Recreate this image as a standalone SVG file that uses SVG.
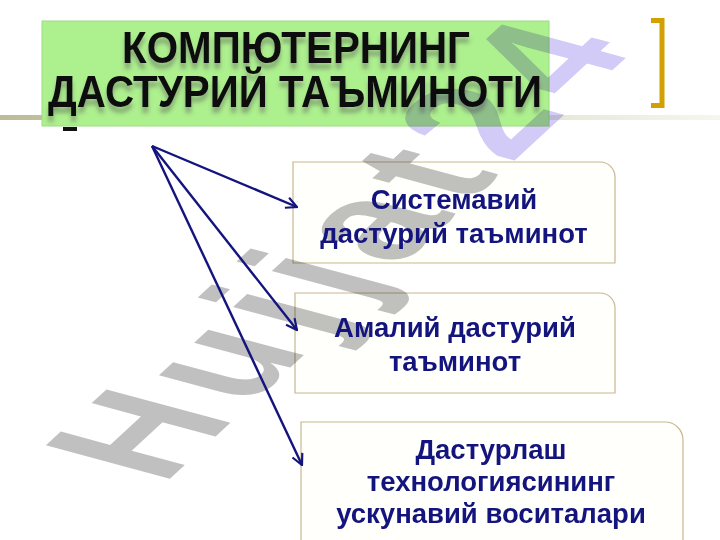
<svg xmlns="http://www.w3.org/2000/svg" width="720" height="540" viewBox="0 0 720 540">
  <defs>
    <linearGradient id="rule" x1="0" y1="0" x2="1" y2="0">
      <stop offset="0" stop-color="#bcbc98"/>
      <stop offset="0.6" stop-color="#dcdcc8"/>
      <stop offset="1" stop-color="#f6f6f0"/>
    </linearGradient>
    <filter id="glow" x="-5%" y="-20%" width="110%" height="160%">
      <feGaussianBlur in="SourceAlpha" stdDeviation="2.2"/>
      <feOffset dy="6" result="b"/>
      <feFlood flood-color="#555" flood-opacity="0.45"/>
      <feComposite in2="b" operator="in"/>
      <feMerge><feMergeNode/><feMergeNode in="SourceGraphic"/></feMerge>
    </filter>
    <marker id="arrow" viewBox="0 0 12 12" refX="11" refY="6" markerWidth="13" markerHeight="13" markerUnits="userSpaceOnUse" orient="auto">
      <path d="M1,1 L11,6 L1,11" fill="none" stroke="#14147e" stroke-width="2"/>
    </marker>
    <style>
      .box { fill: #fffffb; stroke: #c9b78f; stroke-width: 1.2; }
      .label { font-family: "Liberation Sans", Arial, sans-serif; font-weight: bold; font-size: 27.5px; fill: #14147e; text-anchor: middle; }
      .title { font-family: "Liberation Sans", Arial, sans-serif; font-weight: bold; font-size: 44px; fill: #111; text-anchor: middle; }
      .conn { stroke: #14147e; stroke-width: 2.4; fill: none; marker-end: url(#arrow); }
      .wm { font-family: "Liberation Sans", Arial, sans-serif; font-weight: bold; font-size: 100px; mix-blend-mode: multiply; }
    </style>
  </defs>

  <rect width="720" height="540" fill="#ffffff"/>

  <!-- horizontal rule and bracket -->
  <rect x="0" y="115" width="720" height="5" fill="url(#rule)"/>
  <path d="M651,20.5 H662 V105.5 H651" fill="none" stroke="#d2a000" stroke-width="5"/>

  <!-- title -->
  <g id="title">
    <rect x="42" y="21" width="507" height="105" fill="#adf08e" stroke="#9cdc82" stroke-width="1"/>
    <g filter="url(#glow)">
      <text class="title" x="296" y="63" textLength="348" lengthAdjust="spacingAndGlyphs">КОМПЮТЕРНИНГ</text>
      <text class="title" x="295" y="107" textLength="494" lengthAdjust="spacingAndGlyphs">ДАСТУРИЙ ТАЪМИНОТИ</text>
    </g>
  </g>
  <rect x="63" y="127" width="14" height="4" fill="#111"/>

  <!-- boxes -->
  <g id="node-system">
    <path class="box" d="M293,162 H600 A15,15 0 0 1 615,177 V263 H293 Z"/>
  </g>
  <g id="node-applied">
    <path class="box" d="M295,293 H600 A15,15 0 0 1 615,308 V393 H295 Z"/>
  </g>
  <g id="node-tools">
    <path class="box" d="M301,422 H665 A18,18 0 0 1 683,440 V545 H301 Z"/>
  </g>

  <!-- watermark -->
  <g id="watermark">
    <text class="wm" transform="matrix(1.03,-0.951,1.8,0.485,163,485)" letter-spacing="10"><tspan fill="#c0c0c0">Hujjat</tspan><tspan fill="#d2cbf7">24</tspan></text>
  </g>

  <!-- labels -->
  <g id="labels">
    <text class="label" x="454" y="209">Системавий</text>
    <text class="label" x="454" y="243">дастурий таъминот</text>
    <text class="label" x="455" y="337">Амалий дастурий</text>
    <text class="label" x="455" y="371">таъминот</text>
    <text class="label" x="491" y="459">Дастурлаш</text>
    <text class="label" x="491" y="491">технологиясининг</text>
    <text class="label" x="491" y="523">ускунавий воситалари</text>
  </g>

  <!-- connectors -->
  <g id="connectors">
    <line class="conn" x1="152" y1="146" x2="297" y2="207"/>
    <line class="conn" x1="152" y1="146" x2="297" y2="330"/>
    <line class="conn" x1="152" y1="146" x2="302" y2="465"/>
  </g>
</svg>
